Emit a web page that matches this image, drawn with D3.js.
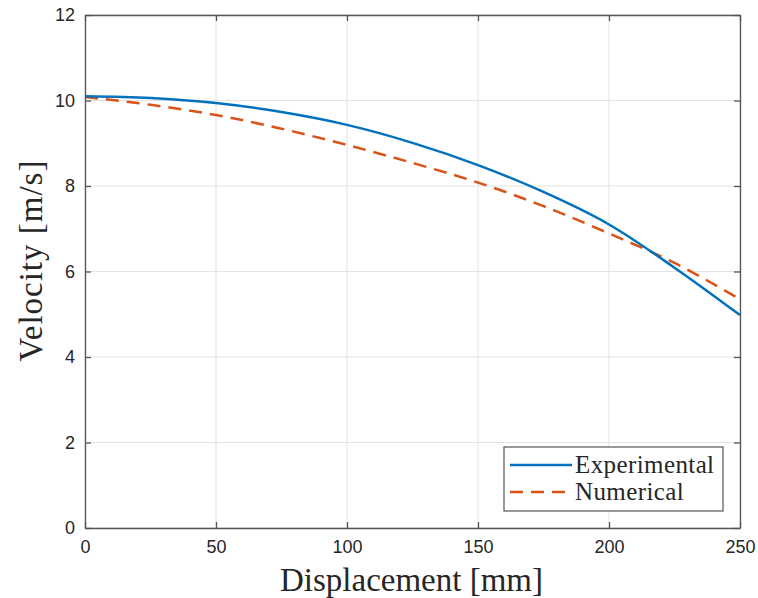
<!DOCTYPE html>
<html>
<head>
<meta charset="utf-8">
<script src="https://cdn.jsdelivr.net/npm/d3@7"></script>
<style>
  body { margin: 0; background: #fff; }
  .tick text { font-family: "Liberation Sans", Arial, sans-serif; font-size: 18px; fill: #262626; }
  .lbl { font-family: "Liberation Serif", "DejaVu Serif", serif; fill: #262626; }
</style>
</head>
<body>
<div id="chart"></div>
<script>
// displacement [mm]
var displacement = [0, 25, 50, 75, 100, 125, 150, 175, 200, 225, 250];
// velocity [m/s]
var experimental = [10.10, 10.06, 9.94, 9.73, 9.43, 9.01, 8.49, 7.86, 7.10, 6.09, 4.98];
var numerical = [10.08, 9.90, 9.66, 9.34, 8.96, 8.54, 8.08, 7.53, 6.89, 6.20, 5.35];
var xTicks = [0, 50, 100, 150, 200, 250];
var yTicks = [0, 2, 4, 6, 8, 10, 12];
var seriesNames = ["Experimental", "Numerical"];

var width = 758, height = 598;
var margin = {left: 85, right: 18, top: 15, bottom: 70};

var svg = d3.select("#chart").append("svg")
  .attr("width", width)
  .attr("height", height);

var x = d3.scaleLinear().domain([0, 250]).range([margin.left, width - margin.right]);
var y = d3.scaleLinear().domain([0, 12]).range([height - margin.bottom, margin.top]);

// grid
svg.append("g")
  .selectAll("line.gx")
  .data(xTicks)
  .enter().append("line")
  .attr("x1", function (d) { return x(d); })
  .attr("x2", function (d) { return x(d); })
  .attr("y1", y(0)).attr("y2", y(12))
  .attr("stroke", "#e3e3e3").attr("stroke-width", 1);

svg.append("g")
  .selectAll("line.gy")
  .data(yTicks)
  .enter().append("line")
  .attr("y1", function (d) { return y(d); })
  .attr("y2", function (d) { return y(d); })
  .attr("x1", x(0)).attr("x2", x(250))
  .attr("stroke", "#e3e3e3").attr("stroke-width", 1);

// lines
var line = d3.line().curve(d3.curveMonotoneX);

svg.append("path")
  .datum(displacement.map(function (d, i) { return [x(d), y(numerical[i])]; }))
  .attr("d", line)
  .attr("fill", "none")
  .attr("stroke", "#D95319")
  .attr("stroke-width", 2.5)
  .attr("stroke-dasharray", "13,8");

svg.append("path")
  .datum(displacement.map(function (d, i) { return [x(d), y(experimental[i])]; }))
  .attr("d", line)
  .attr("fill", "none")
  .attr("stroke", "#0072BD")
  .attr("stroke-width", 2.5);

// axes
var xAxis = svg.append("g")
  .attr("transform", "translate(0," + y(0) + ")")
  .call(d3.axisBottom(x).tickValues(xTicks).tickSizeInner(-6).tickSizeOuter(0).tickPadding(12));
var yAxis = svg.append("g")
  .attr("transform", "translate(" + x(0) + ",0)")
  .call(d3.axisLeft(y).tickValues(yTicks).tickSizeInner(-6).tickSizeOuter(0).tickPadding(10));
var xTop = svg.append("g")
  .attr("transform", "translate(0," + y(12) + ")")
  .call(d3.axisTop(x).tickValues(xTicks).tickSizeInner(-6).tickSizeOuter(0).tickFormat(""));
var yRight = svg.append("g")
  .attr("transform", "translate(" + x(250) + ",0)")
  .call(d3.axisRight(y).tickValues(yTicks).tickSizeInner(-6).tickSizeOuter(0).tickFormat(""));

[xAxis, yAxis, xTop, yRight].forEach(function (g) {
  g.selectAll("path, line").attr("stroke", "#555").attr("stroke-width", 1.3);
});

// axis labels
svg.append("text")
  .attr("class", "lbl")
  .attr("x", (x(0) + x(250)) / 2 - 1)
  .attr("y", 591)
  .attr("text-anchor", "middle")
  .attr("font-size", 33)
  .text("Displacement [mm]");

svg.append("text")
  .attr("class", "lbl")
  .attr("transform", "translate(42," + ((y(0) + y(12)) / 2 - 11) + ") rotate(-90)")
  .attr("text-anchor", "middle")
  .attr("font-size", 33)
  .attr("letter-spacing", 1)
  .text("Velocity [m/s]");

// legend
var legend = svg.append("g").attr("transform", "translate(504,447)");
legend.append("rect")
  .attr("width", 219).attr("height", 64)
  .attr("fill", "#fff").attr("stroke", "#555").attr("stroke-width", 1.2);

var legendData = [[seriesNames[0], "#0072BD", null], [seriesNames[1], "#D95319", "13,8"]];
var item = legend.selectAll("g.item")
  .data(legendData)
  .enter().append("g")
  .attr("transform", function (d, i) { return "translate(0," + (18 + i * 27) + ")"; });

item.append("line")
  .attr("x1", 6).attr("x2", 68)
  .attr("stroke", function (d) { return d[1]; })
  .attr("stroke-width", 2.5)
  .attr("stroke-dasharray", function (d) { return d[2]; });

item.append("text")
  .attr("class", "lbl")
  .attr("x", 71).attr("y", 8)
  .attr("font-size", 25)
  .attr("letter-spacing", 0.4)
  .text(function (d) { return d[0]; });
</script>
</body>
</html>
